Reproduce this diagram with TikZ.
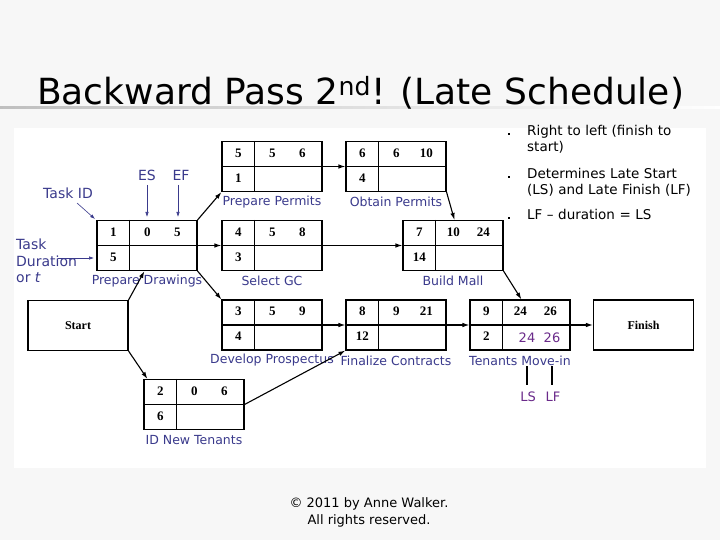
\documentclass[tikz,border=0pt]{standalone}
\usepackage{fontspec}
\setmainfont{DejaVu Sans}
\newfontfamily\serf{Liberation Serif}
\usetikzlibrary{arrows.meta,calc}
\definecolor{lbl}{HTML}{3A3A8C}
\definecolor{purp}{HTML}{6A2A8A}
\tikzset{
  nd/.style={draw,line width=1.1pt,minimum width=100pt,minimum height=50pt,inner sep=0pt},
  num/.style={font=\serf\bfseries\fontsize{13}{14}\selectfont},
  lab/.style={text=lbl,font=\fontsize{12.5}{14}\selectfont},
  con/.style={line width=1.1pt,-{Latex[length=7pt,width=4.5pt]}},
  ann/.style={draw=lbl,line width=0.6pt,-{Latex[length=5pt,width=3.5pt]}},
}
\newcommand{\tbox}[7]{%
  \node[nd] (#1) at (#2) {};
  \draw[line width=1.1pt] (#1.north west)++(33pt,0) -- ++(0,-50pt);
  \draw[line width=1.1pt] (#1.west) -- (#1.east);
  \node[num] at ($(#1.north west)+(17pt,-12pt)$) {#4};
  \node[num] at ($(#1.north west)+(51pt,-12pt)$) {#5};
  \node[num] at ($(#1.north west)+(81pt,-12pt)$) {#6};
  \node[num] at ($(#1.north west)+(17pt,-37pt)$) {#7};
  \node[lab] (#1l) at ($(#1.south)+(0,-10pt)$) {#3};
}
\begin{document}
\begin{tikzpicture}[x=1pt,y=-1pt]
\useasboundingbox (0,0) rectangle (720,540);
\fill[gray!6] (0,0) rectangle (720,540);
\fill[white] (14,128) rectangle (706,468);
\shade[left color=gray!50,right color=white] (0,107) rectangle (720,109);
\node[anchor=base west,font=\fontsize{36}{40}\selectfont,inner sep=0pt] (title) at (37,105) {Backward Pass 2\textsuperscript{nd}! (Late Schedule)};
\tbox{pp}{272,166.5}{Prepare Permits}{5}{5}{6}{1}
\tbox{op}{396,166.5}{Obtain Permits}{6}{6}{10}{4}
\tbox{pd}{147,245.5}{Prepare Drawings}{1}{0}{5}{5}
\tbox{sg}{272,245.5}{Select GC}{4}{5}{8}{3}
\tbox{bm}{453,245.5}{Build Mall}{7}{10}{24}{14}
\tbox{dp}{272,325}{Develop Prospectus}{3}{5}{9}{4}
\tbox{fc}{396,325}{Finalize Contracts}{8}{9}{21}{12}
\tbox{tm}{520,325}{Tenants Move-in}{9}{24}{26}{2}
\tbox{idn}{194,404.5}{ID New Tenants}{2}{0}{6}{6}
\node[nd] (start) at (78,325.5) {};
\node[font=\serf\bfseries\fontsize{12}{13}\selectfont] (st) at (start) {Start};
\node[nd] (fin) at (643.5,325) {};
\node[font=\serf\bfseries\fontsize{12}{13}\selectfont] (ft) at (fin) {Finish};
\node[text=purp,font=\fontsize{13}{14}\selectfont] (ls1) at (527,338) {24};
\node[text=purp,font=\fontsize{13}{14}\selectfont] (lf1) at (552,338) {26};
% connectors
\draw[con] (pd.north east) -- (pp.south west);
\draw[con] (pd.east) -- (sg.west);
\draw[con] (sg.east) -- (bm.west);
\draw[con] (pd.south east) -- (dp.north west);
\draw[con] (start.north east) -- ($(pd.south west)+(48pt,0)$);
\draw[con] (start.south east) -- ($(idn.north west)+(4pt,0)$);
\draw[con] (pp.east) -- (op.west);
\draw[con] (op.south east) -- ($(bm.north west)+(52pt,0)$);
\draw[con] (dp.east) -- (fc.west);
\draw[con] (idn.east) -- (fc.south west);
\draw[con] (fc.east) -- (tm.west);
\draw[con] (bm.south east) -- ($(tm.north west)+(52pt,0)$);
\draw[con] (tm.east) -- (fin.west);
% annotations
\node[text=lbl,font=\fontsize{14}{16}\selectfont] (tid) at (68,193) {Task ID};
\coordinate (tidE) at (95,219);
\draw[ann] (77,203) -- (tidE);
\node[text=lbl,font=\fontsize{14}{16}\selectfont] (es) at (147,175) {ES};
\node[text=lbl,font=\fontsize{14}{16}\selectfont] (ef) at (181,175) {EF};
\coordinate (esE) at (147,217);
\coordinate (efE) at (178,217);
\draw[ann] (147,185) -- (esE);
\draw[ann] (178,185) -- (efE);
\node[text=lbl,font=\fontsize{14}{16.5}\selectfont,align=left,anchor=north west,inner sep=0pt] (td) at (16,239) {Task\\Duration\\or \textit{t}};
\coordinate (tdE) at (94,258);
\draw[ann] (58,258) -- (tdE);
\coordinate (lsA) at (527,366); \coordinate (lsB) at (527,385);
\coordinate (lfA) at (552,366); \coordinate (lfB) at (552,385);
\draw[line width=1.4pt] (lsA) -- (lsB);
\draw[line width=1.4pt] (lfA) -- (lfB);
\node[text=purp,font=\fontsize{13}{14}\selectfont] (lsl) at (528,397) {LS};
\node[text=purp,font=\fontsize{13}{14}\selectfont] (lfl) at (553,397) {LF};
% bullets
\begin{scope}[every node/.style={anchor=north west,inner sep=0pt,font=\fontsize{13.5}{16.5}\selectfont,text width=180pt,align=left}]
\node (b1) at (527,125) {Right to left (finish to\\start)};
\node (b2) at (527,168) {Determines Late Start\\(LS) and Late Finish (LF)};
\node (b3) at (527,209) {LF -- duration = LS};
\end{scope}
\foreach \y in {133,176,217} \fill (508,\y) rectangle ++(2,2);
\node[font=\fontsize{13}{17}\selectfont,align=center] (copy) at (369,512) {© 2011 by Anne Walker.\\All rights reserved.};
\end{tikzpicture}
\end{document}
